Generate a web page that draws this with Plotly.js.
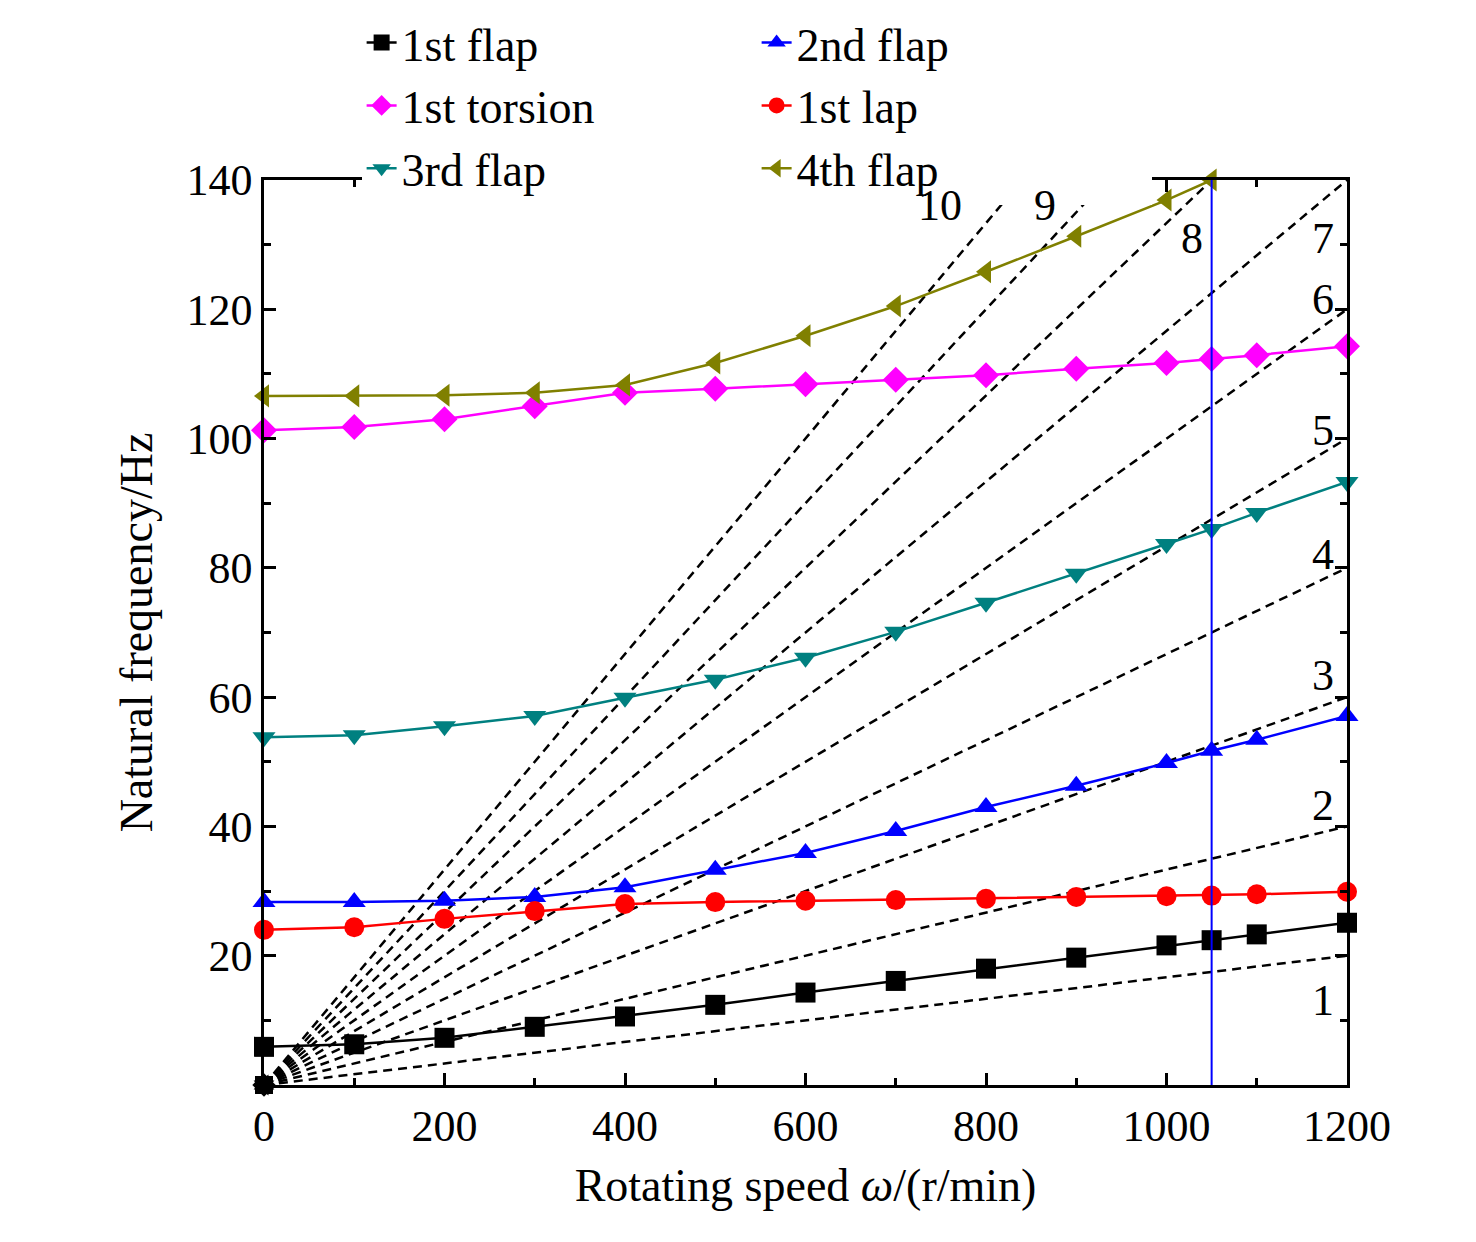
<!DOCTYPE html>
<html>
<head>
<meta charset="utf-8">
<script src="https://cdn.plot.ly/plotly-3.0.1.min.js"></script>
</head>
<body style="margin:0">
<div id="myPlot" style="width:1476px;height:1242px"></div>
<script>
var speed = [0, 100, 200, 300, 400, 500, 600, 700, 800, 900, 1000, 1050, 1100, 1200];
var flap1 = [5.9, 6.3, 7.3, 9.0, 10.6, 12.4, 14.3, 16.1, 18.0, 19.7, 21.6, 22.4, 23.3, 25.1];
var lap1 = [24.0, 24.4, 25.7, 26.9, 28.0, 28.3, 28.5, 28.6, 28.8, 29.1, 29.2, 29.3, 29.5, 29.9];
var flap2 = [28.3, 28.3, 28.5, 29.1, 30.6, 33.3, 35.9, 39.3, 43.0, 46.3, 49.8, 51.7, 53.4, 57.1];
var flap3 = [53.8, 54.1, 55.5, 57.1, 59.9, 62.7, 66.1, 70.1, 74.6, 79.1, 83.7, 86.0, 88.5, 93.3];
var torsion1 = [101.3, 101.8, 103.0, 105.0, 107.1, 107.7, 108.4, 109.1, 109.8, 110.8, 111.7, 112.3, 112.9, 114.3];
var speed4 = [0, 100, 200, 300, 400, 500, 600, 700, 800, 900, 1000, 1050];
var flap4 = [106.6, 106.6, 106.7, 107.1, 108.3, 111.7, 115.9, 120.5, 125.8, 131.3, 136.9, 140.0];
var orders = [1, 2, 3, 4, 5, 6, 7, 8, 9, 10];
var orderLabelX = [1173, 1173, 1173, 1173, 1173, 1173, 1173, 1028, 865, 749];
var orderLabelY = [13.1, 43.3, 63.4, 82, 101.3, 121.5, 131, 131, 136, 136];
var workSpeed = 1050;

var font = 'Liberation Serif, Times New Roman, serif';

function series(name, x, y, color, symbol) {
  return {x: x, y: y, name: name, type: 'scatter', mode: 'lines+markers',
          line: {color: color, width: 2.5},
          marker: {color: color, symbol: symbol, size: 20}};
}

var traces = [];
// excitation order lines
for (var i = 0; i < orders.length; i++) {
  traces.push({x: [0, 1200], y: [0, orders[i] * 1200 / 60], type: 'scatter', mode: 'lines',
               line: {color: 'black', dash: '9px,6px', width: 2.5}, showlegend: false, hoverinfo: 'skip'});
}
traces.push({x: [0, 0, 0, 0, 0, 0], y: [0, 0, 0, 0, 0, 0], type: 'scatter', mode: 'markers', showlegend: false,
             cliponaxis: false,
             marker: {color: 'black', size: 18, symbol: ['square', 'circle', 'triangle-up', 'triangle-down', 'diamond', 'triangle-left']}});
traces.push(series('1st flap', speed, flap1, 'black', 'square'));
traces.push(series('2nd flap', speed, flap2, '#0000ff', 'triangle-up'));
traces.push(series('1st torsion', speed, torsion1, '#ff00ff', 'diamond'));
traces.push(series('1st lap', speed, lap1, '#ff0000', 'circle'));
traces.push(series('3rd flap', speed, flap3, '#008080', 'triangle-down'));
traces.push(series('4th flap', speed4, flap4, '#808000', 'triangle-left'));
for (var k = traces.length - 6; k < traces.length; k++) traces[k].cliponaxis = false;

var annotations = [];
for (var j = 0; j < orders.length; j++) {
  annotations.push({x: orderLabelX[j], y: orderLabelY[j], text: String(orders[j]), showarrow: false,
                    font: {family: font, size: 44, color: 'black'}});
}

var axisBase = {
  showgrid: false, zeroline: false, showline: true, linecolor: 'black', linewidth: 2.5,
  mirror: 'ticks', ticks: 'inside', ticklen: 12, tickwidth: 2.5, tickcolor: 'black',
  tickfont: {family: font, size: 44, color: 'black'}
};

var layout = {
  width: 1476, height: 1242,
  margin: {l: 264, r: 129, t: 180, b: 157, autoexpand: false},
  paper_bgcolor: 'white', plot_bgcolor: 'white',
  showlegend: true,
  legend: {orientation: 'h', xref: 'container', yref: 'container', x: 0.245, xanchor: 'left',
           y: 0.995, yanchor: 'top', entrywidth: 350,
           font: {family: font, size: 46, color: 'black'}, tracegroupgap: 0},
  xaxis: Object.assign({}, axisBase, {
    range: [0, 1200], tickvals: [0, 200, 400, 600, 800, 1000, 1200],
    minor: {dtick: 100, ticks: 'inside', ticklen: 7, tickwidth: 2.5, tickcolor: 'black'},
    title: {text: 'Rotating speed <i>ω</i>/(r/min)', font: {family: font, size: 46, color: 'black'}, standoff: 20}
  }),
  yaxis: Object.assign({}, axisBase, {
    range: [0, 140], tickvals: [20, 40, 60, 80, 100, 120, 140],
    minor: {dtick: 10, ticks: 'inside', ticklen: 7, tickwidth: 2.5, tickcolor: 'black'},
    title: {text: 'Natural frequency/Hz', font: {family: font, size: 46, color: 'black'}, standoff: 20}
  }),
  shapes: [{type: 'line', xref: 'x', yref: 'paper', x0: workSpeed, x1: workSpeed, y0: 0, y1: 1,
            line: {color: '#0000ff', width: 2}}],
  annotations: annotations
};

Plotly.newPlot('myPlot', traces, layout, {displayModeBar: false});
</script>
</body>
</html>
